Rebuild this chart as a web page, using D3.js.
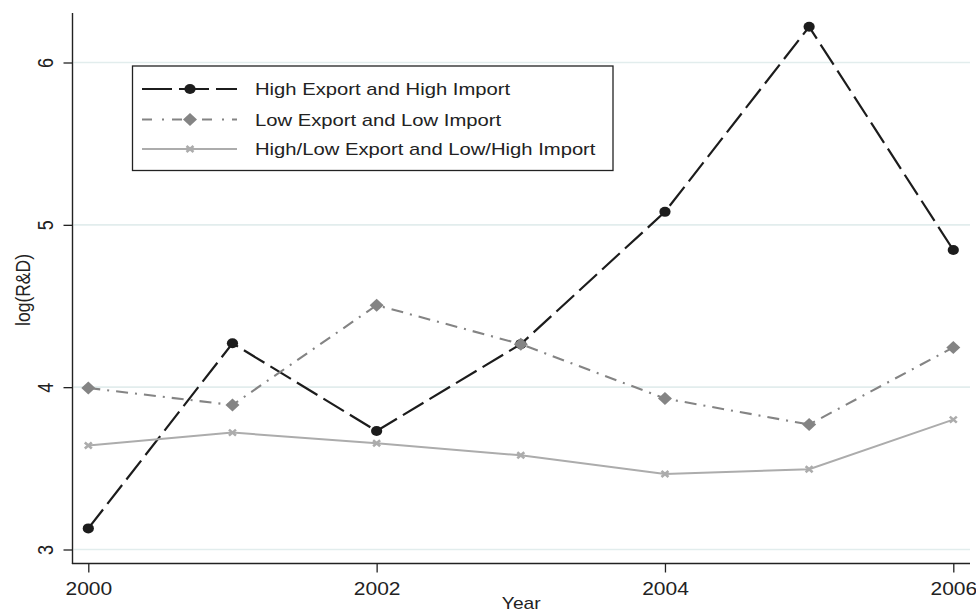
<!DOCTYPE html>
<html><head><meta charset="utf-8">
<script src="https://cdn.jsdelivr.net/npm/d3@7"></script>
<style>body{margin:0;background:#fff}svg{display:block}</style>
</head><body><svg id="c" width="976" height="612"></svg>
<script>
const years = [2000, 2001, 2002, 2003, 2004, 2005, 2006];
const highHigh = [3.13, 4.27, 3.73, 4.265, 5.08, 6.22, 4.845];
const lowLow = [3.995, 3.89, 4.505, 4.265, 3.93, 3.77, 4.245];
const mixed = [3.64, 3.72, 3.655, 3.58, 3.465, 3.495, 3.80];
const seriesNames = ["High Export and High Import", "Low Export and Low Import", "High/Low Export and Low/High Import"];
const xTicks = [2000, 2002, 2004, 2006];
const yTicks = [3, 4, 5, 6];
const xTitle = "Year";
const yTitle = "log(R&D)";

const SX = 1.2;             // horizontal text stretch of the original image
const FONT = "Liberation Sans, Arial, Helvetica, sans-serif";
const svg = d3.select("#c");
const L = 72.5, R = 970, T = 13, B = 563.5;
const x = d3.scaleLinear().domain([2000, 2006]).range([88.3, 953.3]);
const y = d3.scaleLinear().domain([3, 6]).range([549.5, 62.5]);

// gridlines
svg.append("g").selectAll("line").data(yTicks).join("line")
  .attr("x1", L + 1).attr("x2", R).attr("y1", d => y(d)).attr("y2", d => y(d))
  .attr("stroke", "#e2eded").attr("stroke-width", 1.6);

// axes
const yAxis = d3.axisLeft(y).tickValues(yTicks).tickSize(9).tickSizeOuter(0).tickFormat(d3.format("d"));
const gy = svg.append("g").attr("transform", `translate(${L},0)`).call(yAxis);
gy.select(".domain").remove();
gy.selectAll(".tick line").attr("stroke", "#222").attr("stroke-width", 1.3);
gy.selectAll(".tick text").attr("x", null).attr("y", null).attr("dy", null)
  .attr("text-anchor", "middle").attr("fill", "#222")
  .attr("font-family", FONT).attr("font-size", 18)
  .attr("transform", `translate(-20,0) scale(${SX},1) rotate(-90)`);

const xAxis = d3.axisBottom(x).tickValues(xTicks).tickSize(9).tickSizeOuter(0).tickFormat(d3.format("d"));
const gx = svg.append("g").attr("transform", `translate(0,${B})`).call(xAxis);
gx.select(".domain").remove();
gx.selectAll(".tick line").attr("stroke", "#222").attr("stroke-width", 1.3);
gx.selectAll(".tick text").attr("y", null).attr("dy", null).attr("fill", "#222")
  .attr("font-family", FONT).attr("font-size", 17.5)
  .attr("transform", `translate(0,31) scale(${SX},1)`);

svg.append("line").attr("x1", L).attr("x2", L).attr("y1", T).attr("y2", B + 0.6)
  .attr("stroke", "#222").attr("stroke-width", 1.4);
svg.append("line").attr("x1", L - 0.6).attr("x2", R).attr("y1", B).attr("y2", B)
  .attr("stroke", "#222").attr("stroke-width", 1.4);

// axis titles
svg.append("text").text(xTitle).attr("text-anchor", "middle").attr("fill", "#222")
  .attr("font-family", FONT).attr("font-size", 16)
  .attr("transform", `translate(${(L + R) / 2},609) scale(${SX},1)`);
svg.append("text").text(yTitle).attr("text-anchor", "middle").attr("fill", "#222")
  .attr("font-family", FONT).attr("font-size", 17.5)
  .attr("transform", `translate(29.5,290) scale(${SX},1) rotate(-90)`);

// series
const series = [
  {name: seriesNames[0], vals: highHigh, color: "#1c1c1c", width: 2.2, dash: "24,7", marker: "circle"},
  {name: seriesNames[1], vals: lowLow, color: "#848484", width: 2.1, dash: "12,7,2,7", marker: "diamond"},
  {name: seriesNames[2], vals: mixed, color: "#acacac", width: 2.0, dash: null, marker: "x"}
];
const line = d3.line().x(d => x(d[0])).y(d => y(d[1]));

function drawMarker(g, kind, cx, cy, color) {
  if (kind === "circle") {
    g.append("ellipse").attr("cx", cx).attr("cy", cy).attr("rx", 5.6).attr("ry", 5).attr("fill", color);
  } else if (kind === "diamond") {
    g.append("path").attr("d", `M${cx},${cy - 6.5}L${cx + 7},${cy}L${cx},${cy + 6.5}L${cx - 7},${cy}Z`).attr("fill", color);
  } else {
    g.append("path").attr("d", `M${cx - 3.5},${cy - 3}L${cx + 3.5},${cy + 3}M${cx - 3.5},${cy + 3}L${cx + 3.5},${cy - 3}`)
      .attr("stroke", color).attr("stroke-width", 2.6).attr("fill", "none");
  }
}

series.forEach(s => {
  const g = svg.append("g");
  const pts = years.map((yr, i) => [yr, s.vals[i]]);
  g.append("path").datum(pts).attr("d", line).attr("fill", "none")
    .attr("stroke", s.color).attr("stroke-width", s.width)
    .attr("stroke-dasharray", s.dash);
  pts.forEach(p => drawMarker(g, s.marker, x(p[0]), y(p[1]), s.color));
});

// legend
const lg = svg.append("g");
lg.append("rect").attr("x", 132.5).attr("y", 66).attr("width", 480.5).attr("height", 104.5)
  .attr("fill", "#fff").attr("stroke", "#222").attr("stroke-width", 1.3);
const rowsY = [89, 119.5, 149];
series.forEach((s, i) => {
  const yy = rowsY[i];
  lg.append("line").attr("x1", 142).attr("x2", 237).attr("y1", yy).attr("y2", yy)
    .attr("stroke", s.color).attr("stroke-width", s.width)
    .attr("stroke-dasharray", i === 0 ? "30,7" : (i === 1 ? "10,10,2,8" : null));
  drawMarker(lg, s.marker, 190, yy, s.color);
  lg.append("text").text(s.name).attr("fill", "#222")
    .attr("font-family", FONT).attr("font-size", 17)
    .attr("transform", `translate(255,${yy + 6}) scale(1.19,1)`);
});
</script></body></html>
